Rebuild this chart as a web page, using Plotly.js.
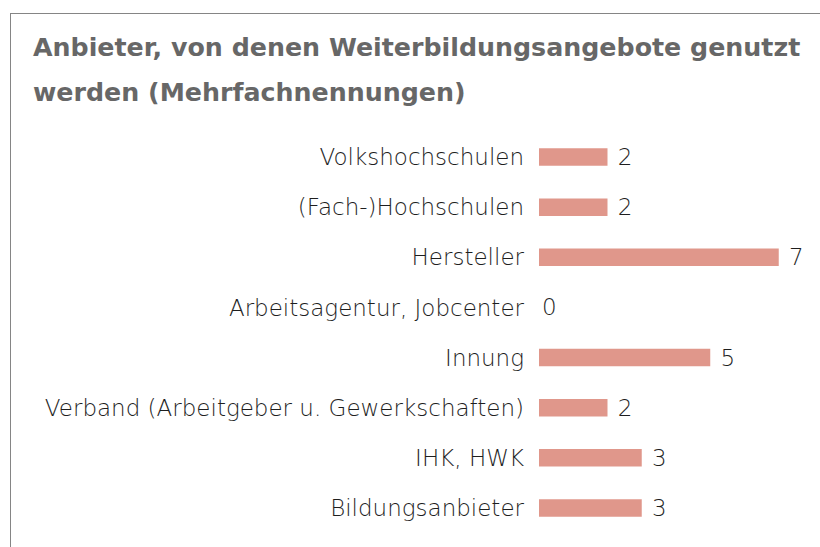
<!DOCTYPE html>
<html>
<head>
<meta charset="utf-8">
<script src="https://cdn.plot.ly/plotly-3.0.1.min.js"></script>
<style>
html,body{margin:0;padding:0;background:#fff;}
#frame{position:absolute;left:10px;top:13px;width:900px;height:700px;border:1.5px solid #858585;box-sizing:border-box;}
#chart{position:absolute;left:0;top:0;width:820px;height:547px;}
</style>
</head>
<body>
<div id="frame"></div>
<div id="chart"></div>
<script>
var categories = ["Volkshochschulen", "(Fach-)Hochschulen", "Hersteller", "Arbeitsagentur, Jobcenter", "Innung", "Verband (Arbeitgeber u. Gewerkschaften)", "IHK, HWK", "Bildungsanbieter"];
var values = [2, 2, 7, 0, 5, 2, 3, 3];
var titleLine1 = "Anbieter, von denen Weiterbildungsangebote genutzt";
var titleLine2 = "werden (Mehrfachnennungen)";

var textFont = {family: "'DejaVu Sans', sans-serif", size: 23, color: "#1e1e1e", weight: 200};
var titleFont = {family: "'DejaVu Sans', sans-serif", size: 25.3, color: "#676767", weight: 700};

var trace = {
  type: "bar",
  orientation: "h",
  y: categories,
  x: values,
  marker: {color: "#e0978b"},
  text: values.map(function(v){ return (v > 0 ? " " : "") + v; }),
  textposition: "outside",
  constraintext: "none",
  textfont: textFont,
  cliponaxis: false,
  hoverinfo: "none",
  width: 0.35
};

var layout = {
  width: 820,
  height: 547,
  margin: {l: 539, r: 7, t: 132, b: 14},
  paper_bgcolor: "rgba(0,0,0,0)",
  plot_bgcolor: "rgba(0,0,0,0)",
  showlegend: false,
  xaxis: {range: [0, 8], visible: false, fixedrange: true},
  yaxis: {
    autorange: "reversed",
    showgrid: false, zeroline: false, showline: false,
    ticks: "", ticklabelstandoff: 14,
    tickfont: textFont,
    automargin: false
  },
  annotations: [
    {xref: "paper", yref: "paper", x: (31 - 539) / 274, y: 1 + (132 - 48) / 401, xanchor: "left", yanchor: "middle",
     text: titleLine1, showarrow: false, font: titleFont},
    {xref: "paper", yref: "paper", x: (31 - 539) / 274, y: 1 + (132 - 93) / 401, xanchor: "left", yanchor: "middle",
     text: titleLine2, showarrow: false, font: titleFont}
  ]
};

Plotly.newPlot("chart", [trace], layout, {displayModeBar: false, staticPlot: true});
</script>
</body>
</html>
